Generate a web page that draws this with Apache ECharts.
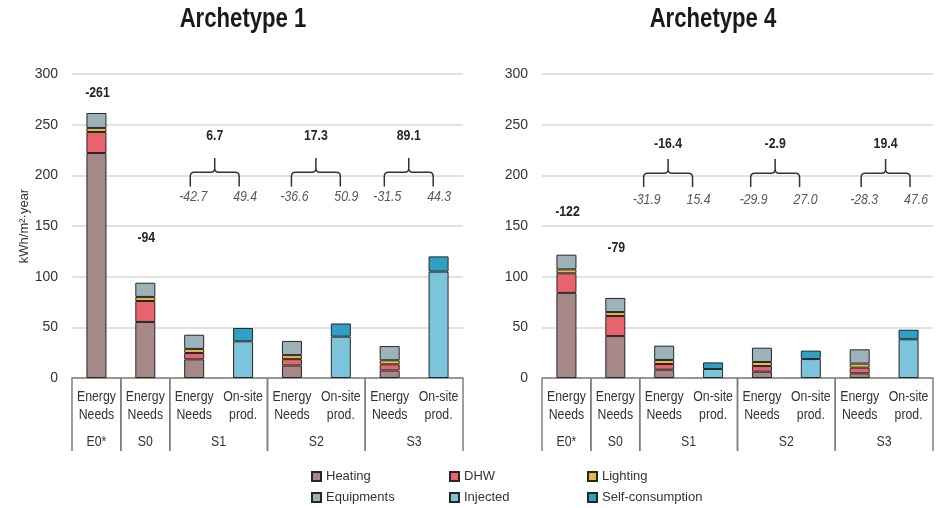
<!DOCTYPE html>
<html><head><meta charset="utf-8">
<script src="https://cdn.jsdelivr.net/npm/echarts@6/dist/echarts.min.js"></script>
<style>html,body{margin:0;padding:0;background:#fff}#c{width:950px;height:508px}</style>
</head><body><div id="c"></div>
<script>
// ---------- DATA ----------
const categoryKeys = ['E0-needs','S0-needs','S1-needs','S1-prod','S2-needs','S2-prod','S3-needs','S3-prod'];
const categoryLabels = ['Energy\nNeeds','Energy\nNeeds','Energy\nNeeds','On-site\nprod.','Energy\nNeeds','On-site\nprod.','Energy\nNeeds','On-site\nprod.'];
const groupLabels = ['E0*','S0','S1','S2','S3'];
const groupStart = [0,1,2,4,6];
const groupEnd   = [0,1,3,5,7];
const seriesNames = ['Heating','DHW','Lighting','Equipments','Injected','Self-consumption'];
const chartTitles = ['Archetype 1','Archetype 4'];
const yAxisName = 'kWh/m\u00b2\u00b7year';

// Archetype 1
const a1Heating    = [222, 55.3, 18.4, null, 12.3, null, 7.4, null];
const a1DHW        = [20.8, 20.7, 6.3, null, 6.3, null, 6.1, null];
const a1Lighting   = [4, 4, 4, null, 4, null, 4, null];
const a1Equipments = [14.7, 14, 14, null, 14, null, 14, null];
const a1Injected   = [null, null, null, 36.2, null, 40.8, null, 105];
const a1Self       = [null, null, null, 13.2, null, 13, null, 15];
const a1TotalLabels = ['-261', '-94'];
const a1Balance     = ['6.7', '17.3', '89.1'];
const a1NeedsLabels = ['-42.7', '-36.6', '-31.5'];
const a1ProdLabels  = ['49.4', '50.9', '44.3'];

// Archetype 4
const a4Heating    = [84, 41.4, 8.2, null, 6.2, null, 4.6, null];
const a4DHW        = [19.3, 19.8, 5.6, null, 5.6, null, 5.6, null];
const a4Lighting   = [3.9, 3.9, 4, null, 4, null, 4, null];
const a4Equipments = [14.5, 13.9, 14.1, null, 14.1, null, 14.1, null];
const a4Injected   = [null, null, null, 8.9, null, 18.7, null, 38.2];
const a4Self       = [null, null, null, 6.5, null, 8.3, null, 9.4];
const a4TotalLabels = ['-122', '-79'];
const a4Balance     = ['-16.4', '-2.9', '19.4'];
const a4NeedsLabels = ['-31.9', '-29.9', '-28.3'];
const a4ProdLabels  = ['15.4', '27.0', '47.6'];

// ---------- LAYOUT / STYLE ----------
const SANS = "'Liberation Sans',Arial,sans-serif";
const NX = 0.82; // horizontal squeeze to imitate a narrow face
const colors = ['#a68886','#e8636d','#e7b94b','#9bb3b9','#7cc4dc','#2f9fc3'];
const gridLefts = [72, 542];
const titleCenters = [243, 713];
const totalLabelY = [[281, 138], [164, 128]];
const braceShift = [[-0.08, -0.01, -0.11], [-0.42, -0.23, 0.03]];
const braceLevels = [{tip:217, hor:203, leg:189, bold:239, ital:178.5}, {tip:216, hor:202, leg:188.5, bold:231, ital:176}];

function sText(x, y, text, font, fill, extra) {
  return {type: 'text', x: x, y: y, scaleX: NX, style: Object.assign({x: 0, y: 0, text: text, textAlign: 'center', textVerticalAlign: 'middle', font: font, fill: fill}, extra || {})};
}

const charts = [
  {series:[a1Heating,a1DHW,a1Lighting,a1Equipments,a1Injected,a1Self], totals:a1TotalLabels, bal:a1Balance, needs:a1NeedsLabels, prod:a1ProdLabels},
  {series:[a4Heating,a4DHW,a4Lighting,a4Equipments,a4Injected,a4Self], totals:a4TotalLabels, bal:a4Balance, needs:a4NeedsLabels, prod:a4ProdLabels}
];

const grid = [], xAxis = [], yAxis = [], series = [], graphic = [];
charts.forEach((ch, k) => {
  grid.push({left: gridLefts[k], top: 74, width: 391, height: 304});
  xAxis.push({
    type: 'category', gridIndex: k, data: categoryKeys,
    axisLine: {lineStyle: {color: '#7f7f7f', width: 1.5}},
    axisTick: {show: false},
    axisLabel: {show: false}
  });
  yAxis.push({
    type: 'value', gridIndex: k, min: 0, max: 300, interval: 50,
    name: k === 0 ? yAxisName : '', nameLocation: 'middle', nameGap: 32,
    nameTextStyle: {fontFamily: SANS, fontSize: 13, color: '#333'},
    axisLine: {show: false}, axisTick: {show: false},
    axisLabel: {fontFamily: SANS, fontSize: 14, color: '#333', margin: 14},
    splitLine: {lineStyle: {color: '#d9d9d9', width: 1.5}}
  });
  ch.series.forEach((vals, s) => {
    series.push({
      name: seriesNames[s], type: 'bar', stack: 'st' + k, xAxisIndex: k, yAxisIndex: k,
      barWidth: 20, data: vals,
      itemStyle: {color: colors[s], borderColor: '#262626', borderWidth: 1},
      emphasis: {disabled: true}
    });
  });
  // category labels (two lines) under each bar
  series.push({
    type: 'custom', xAxisIndex: k, yAxisIndex: k, silent: true, clip: false, z: 5,
    data: categoryKeys.map((c, i) => [i, 0]),
    renderItem: (params, api) => {
      const p = api.coord([api.value(0), 0]);
      return sText(p[0], p[1] + 10, categoryLabels[params.dataIndex], '15px ' + SANS, '#333', {textVerticalAlign: 'top', lineHeight: 18});
    }
  });
  // group separators and group labels
  series.push({
    type: 'custom', xAxisIndex: k, yAxisIndex: k, silent: true, clip: false, z: 5,
    data: groupStart.map(g => [g, 0]),
    renderItem: (params, api) => {
      const i = params.dataIndex;
      const band = api.size([1, 0])[0];
      const p0 = api.coord([groupStart[i], 0]);
      const p1 = api.coord([groupEnd[i], 0]);
      const xl = p0[0] - band / 2, xr = p1[0] + band / 2, y = p0[1];
      const st = {stroke: '#7f7f7f', lineWidth: 1.5};
      return {type: 'group', children: [
        {type: 'line', shape: {x1: xl, y1: y, x2: xl, y2: y + 73}, style: st},
        {type: 'line', shape: {x1: xr, y1: y, x2: xr, y2: y + 73}, style: st},
        sText((xl + xr) / 2, y + 64, groupLabels[i], '15px ' + SANS, '#333')
      ]};
    }
  });
  // total labels above the first two bars
  series.push({
    type: 'custom', xAxisIndex: k, yAxisIndex: k, silent: true, clip: false, z: 5,
    data: ch.totals.map((t, i) => [i, totalLabelY[k][i]]),
    renderItem: (params, api) => {
      const p = api.coord([api.value(0), api.value(1)]);
      return sText(p[0] + 1, p[1], ch.totals[params.dataIndex], 'bold 15px ' + SANS, '#262626');
    }
  });
  // braces
  series.push({
    type: 'custom', xAxisIndex: k, yAxisIndex: k, silent: true, clip: false, z: 5,
    data: [[2, 0], [4, 0], [6, 0]],
    renderItem: (params, api) => {
      const i = params.dataIndex;
      const L = braceLevels[k];
      const band = api.size([1, 0])[0];
      const sh = braceShift[k][i] * band;
      const xl = api.coord([2 + 2 * i, 0])[0] + sh;
      const xr = api.coord([3 + 2 * i, 0])[0] + sh;
      const yT = api.coord([0, L.tip])[1], yH = api.coord([0, L.hor])[1], yB = api.coord([0, L.leg])[1];
      const yBold = api.coord([0, L.bold])[1], yIt = api.coord([0, L.ital])[1];
      const xc = (xl + xr) / 2, r = 4;
      const d = `M${xl} ${yB} L${xl} ${yH + r} Q${xl} ${yH} ${xl + r} ${yH} L${xc - r} ${yH} Q${xc} ${yH} ${xc} ${yH - r} L${xc} ${yT} M${xc} ${yH - r} Q${xc} ${yH} ${xc + r} ${yH} L${xr - r} ${yH} Q${xr} ${yH} ${xr} ${yH + r} L${xr} ${yB}`;
      return {type: 'group', children: [
        {type: 'path', shape: {pathData: d}, style: {stroke: '#333', lineWidth: 1.5, fill: null}},
        sText(xc, yBold, ch.bal[i], 'bold 15px ' + SANS, '#262626'),
        sText(xl + 3, yIt, ch.needs[i], 'italic 15px ' + SANS, '#595959'),
        sText(xr + 6, yIt, ch.prod[i], 'italic 15px ' + SANS, '#595959')
      ]};
    }
  });
  graphic.push({type: 'text', x: titleCenters[k], y: 20, scaleX: NX, style: {x: 0, y: 0, text: chartTitles[k], textAlign: 'center', textVerticalAlign: 'middle', font: 'bold 27px ' + SANS, fill: '#1a1a1a'}});
});

const legendCommon = {orient: 'vertical', top: 469, height: 40, padding: 0, itemWidth: 9, itemHeight: 9, itemGap: 6, icon: 'rect',
  textStyle: {fontFamily: SANS, fontSize: 13, color: '#333', lineHeight: 15}};
const option = {
  animation: false,
  grid, xAxis, yAxis, series, graphic,
  legend: [
    Object.assign({left: 311, data: ['Heating', 'Equipments']}, legendCommon),
    Object.assign({left: 449, data: ['DHW', 'Injected']}, legendCommon),
    Object.assign({left: 587, data: ['Lighting', 'Self-consumption']}, legendCommon)
  ]
};
const chart = echarts.init(document.getElementById('c'), null, {renderer: 'canvas'});
chart.setOption(option);
</script></body></html>
